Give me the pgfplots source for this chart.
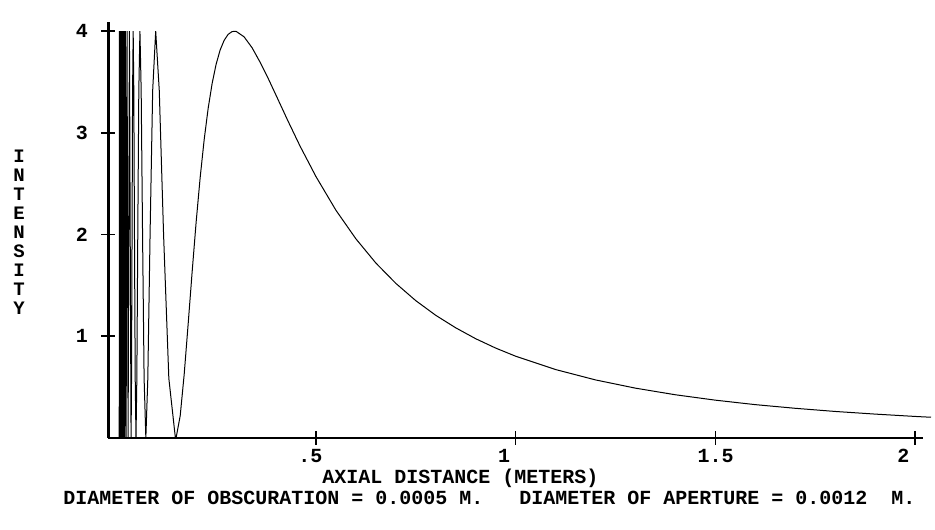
\documentclass[border=0pt]{standalone}
\usepackage{fontspec}
\setmainfont{Liberation Mono}
\usepackage{pgfplots}
\pgfplotsset{compat=1.18}
\begin{document}
\begin{tikzpicture}
\useasboundingbox (0,0) rectangle (467.5pt,264.5pt);
\begin{axis}[
  at={(54.15pt,45.5pt)}, anchor=south west,
  scale only axis, width=407.35pt, height=208pt,
  xmin=-0.02, xmax=2.02, ymin=0, ymax=4.09,
  enlargelimits=false, clip=false,
  axis lines=left,
  x axis line style={-, line width=1pt},
  y axis line style={-, line width=1.6pt},
  xtick={0.5,1,1.5,2}, xticklabels={.5,1,1.5,2},
  ytick={1,2,3,4}, yticklabels={1,2,3,4},
  tick align=center, major tick length=7pt,
  tick style={black, line width=0.8pt},
  /pgf/number format/assume math mode=true,
  ticklabel style={font=\fontsize{10}{12}\selectfont\bfseries, inner sep=0pt},
  xticklabel style={anchor=base west, xshift=-9pt, yshift=-9pt},
  yticklabel style={anchor=east, xshift=-6.5pt},
]
\addplot[black, line width=0.5pt] coordinates {
(0.00740,0) (0.00759,4) (0.00779,0) (0.00800,4) (0.00822,0) (0.00846,4)
(0.00871,0) (0.00897,4) (0.00925,0) (0.00955,4) (0.00987,0) (0.01021,4)
(0.01057,0) (0.01096,4) (0.01139,0) (0.01184,4) (0.01233,0) (0.01287,4)
(0.01346,0) (0.01410,4) (0.01444,2) (0.01480,0) (0.01518,2) (0.01558,4)
(0.01600,2) (0.01645,0) (0.01692,2) (0.01741,4) (0.01794,2) (0.01850,0)
(0.01910,2) (0.01974,4) (0.02042,2) (0.02114,0) (0.02193,2) (0.02277,4)
(0.02368,2) (0.02467,0) (0.02574,2) (0.02691,4) (0.02819,2) (0.02960,0)
(0.03116,2) (0.03289,4) (0.03483,2) (0.03700,0) (0.03820,0.586) (0.03947,2)
(0.04083,3.414) (0.04229,4) (0.04386,3.414) (0.04554,2) (0.04736,0.586) (0.04934,0)
(0.05148,0.586) (0.05382,2) (0.05639,3.414) (0.05921,4) (0.06232,3.414) (0.06578,2)
(0.06965,0.586) (0.07401,0) (0.07894,0.586) (0.08458,2) (0.09109,3.414) (0.09868,4)
(0.10765,3.414) (0.11841,2) (0.13157,0.586) (0.14801,0)
(0.15,0.007) (0.16,0.217) (0.17,0.625) (0.18,1.123) (0.19,1.637) (0.20,2.125)
(0.21,2.560) (0.22,2.931) (0.23,3.240) (0.24,3.486) (0.25,3.675) (0.26,3.814)
(0.27,3.909) (0.28,3.968) (0.29,3.996) (0.30,3.998) (0.32,3.944) (0.34,3.837)
(0.36,3.695) (0.38,3.538) (0.40,3.370) (0.43,3.116) (0.46,2.871) (0.50,2.570)
(0.55,2.239) (0.60,1.958) (0.65,1.720) (0.70,1.520) (0.75,1.350) (0.80,1.206)
(0.85,1.083) (0.90,0.976) (0.95,0.884) (1.00,0.804) (1.10,0.673) (1.20,0.571)
(1.30,0.490) (1.40,0.425) (1.50,0.372) (1.60,0.328) (1.70,0.292) (1.80,0.261)
(1.90,0.235) (2.00,0.212) (2.04,0.204)
};
\end{axis}
\node[anchor=base west, inner sep=0pt, font=\fontsize{10}{12}\selectfont\bfseries] at (161pt,23pt) {AXIAL DISTANCE (METERS)};
\node[anchor=base west, inner sep=0pt, font=\fontsize{10}{12}\selectfont\bfseries] at (31.5pt,12.5pt) {DIAMETER OF OBSCURATION = 0.0005 M.~~~DIAMETER OF APERTURE = 0.0012~~M.};
\node[align=center, inner sep=0pt, font=\fontsize{9.5}{9.5}\selectfont\bfseries] at (9.5pt,148.25pt) {I\\N\\T\\E\\N\\S\\I\\T\\Y};
\end{tikzpicture}
\end{document}
